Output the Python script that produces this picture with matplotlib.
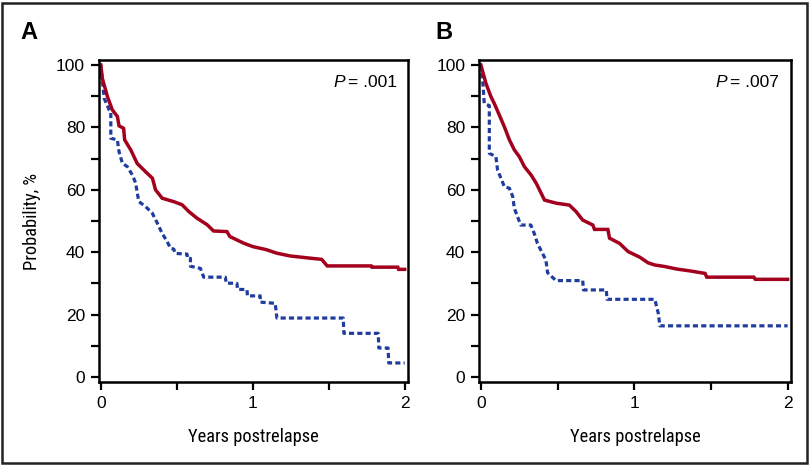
import matplotlib
matplotlib.use("Agg")
import matplotlib.pyplot as plt
from matplotlib import font_manager
from matplotlib.patches import Rectangle

# panel A  (years postrelapse, probability %)
a_red_t = [0, 0.01, 0.044, 0.076, 0.109, 0.12, 0.15, 0.157, 0.197, 0.24, 0.305, 0.34, 0.36, 0.404,
           0.48, 0.535, 0.58, 0.633, 0.70, 0.742, 0.83, 0.85, 0.94, 1.0, 1.09, 1.157, 1.245, 1.375,
           1.454, 1.49, 1.78, 1.785, 1.955, 1.96, 2.0]
a_red_s = [100, 95.7, 89.8, 85.6, 83.5, 80.5, 79.7, 76, 72.8, 68.4, 65.3, 63.7, 60, 57.3,
           56.2, 55.2, 53, 50.9, 48.8, 46.8, 46.6, 45, 42.9, 41.8, 40.8, 39.7, 38.8, 38.1,
           37.7, 35.6, 35.6, 35.2, 35.2, 34.5, 34.5]
a_blue_t = [0, 0.01, 0.022, 0.055, 0.066, 0.066, 0.109, 0.12, 0.142, 0.175, 0.208, 0.23, 0.24,
            0.251, 0.295, 0.339, 0.372, 0.404, 0.437, 0.459, 0.48, 0.49, 0.568, 0.57, 0.59,
            0.59, 0.656, 0.677, 0.82, 0.825, 0.896, 0.9, 0.962, 0.965, 1.049, 1.05, 1.148,
            1.159, 1.596, 1.6, 1.826, 1.83, 1.891, 1.895, 2.0]
a_blue_s = [100, 95, 89.3, 85.6, 85, 76.5, 76, 72.2, 68.5, 67.4, 64.7, 62.1, 58.9,
            56.2, 54.6, 52.5, 49.3, 46, 43.4, 41.2, 41.0, 39.6, 39.4, 38.0, 38.0,
            35.5, 34.8, 32.0, 32.0, 30.1, 30.0, 28.1, 28.0, 26.0, 26.0, 24.0, 23.6,
            18.9, 18.9, 14.0, 14.0, 9.3, 9.3, 4.5, 4.5]

# panel B
b_red_t = [0, 0.033, 0.066, 0.087, 0.12, 0.153, 0.186, 0.218, 0.251, 0.284, 0.328, 0.361, 0.393,
           0.415, 0.492, 0.577, 0.621, 0.664, 0.73, 0.741, 0.828, 0.839, 0.905, 0.96, 1.036,
           1.09, 1.134, 1.2, 1.277, 1.364, 1.462, 1.473, 1.78, 1.79, 2.0]
b_red_s = [100, 94.1, 89.8, 87.7, 84, 80.2, 76, 72.8, 70.6, 67.4, 64.7, 62.1, 58.9,
           56.7, 55.7, 55.1, 53, 50.3, 48.7, 47.3, 47.3, 44.5, 42.8, 40.2, 38.4,
           36.6, 35.9, 35.4, 34.6, 34, 33.2, 32, 32, 31.3, 31.3]
b_blue_t = [0, 0.015, 0.022, 0.044, 0.055, 0.055, 0.098, 0.109, 0.131, 0.153, 0.186, 0.208,
            0.218, 0.26, 0.326, 0.348, 0.369, 0.402, 0.424, 0.435, 0.49, 0.664, 0.669,
            0.818, 0.822, 1.134, 1.157, 1.167, 2.0]
b_blue_s = [100, 93, 87.7, 87.2, 87, 71.7, 70.6, 66.3, 63.7, 61, 60.5, 57.8,
            54.1, 48.7, 48.7, 46, 42.8, 39.6, 37.5, 33.4, 30.9, 30.9, 27.9,
            27.9, 24.9, 24.9, 20.4, 16.4, 16.4]

panels = [
    ("A", "= .001", a_red_t, a_red_s, a_blue_t, a_blue_s),
    ("B", "= .007", b_red_t, b_red_s, b_blue_t, b_blue_s),
]

RED = "#a3001e"
BLUE = "#1f3c9e"

# condensed face for the axis titles if one is around
installed = {f.name for f in font_manager.fontManager.ttflist}
narrow = None
for name in ["Liberation Sans Narrow", "Arial Narrow", "DejaVu Sans Condensed",
             "Roboto Condensed", "Open Sans Condensed"]:
    if name in installed:
        narrow = name
        break
if narrow:
    lab_family, lab_size = [narrow, "DejaVu Sans"], 13.2
else:
    lab_family, lab_size = ["Liberation Sans", "DejaVu Sans"], 11.5
tickfont = ["Liberation Sans", "DejaVu Sans"]

fig = plt.figure(figsize=(8.1, 4.65), dpi=100)
fig.patch.set_facecolor("white")

boxes = [[0.1222, 0.1785, 0.3815, 0.6925], [0.5914, 0.1785, 0.3851, 0.6925]]
letter_x = [0.025, 0.537]

for i, (letter, pval, rt, rs, bt, bs) in enumerate(panels):
    ax = fig.add_axes(boxes[i])
    ax.plot(bt, bs, color=BLUE, lw=2.3, linestyle=(0, (1.6, 1.0)))
    ax.plot(rt, rs, color=RED, lw=2.5, solid_joinstyle="miter")
    ax.set_xlim(-0.012, 2.022)
    ax.set_ylim(-1.6, 101.6)
    ax.set_xticks([0, 0.5, 1, 1.5, 2])
    ax.set_xticklabels(["0", "", "1", "", "2"], family=tickfont, fontsize=12.5)
    ax.set_yticks(range(0, 101, 10))
    ax.set_yticklabels([str(v) if v % 20 == 0 else "" for v in range(0, 101, 10)],
                       family=tickfont, fontsize=12.5)
    ax.tick_params(direction="out", length=6, width=1.6, color="black", pad=4)
    for sp in ax.spines.values():
        sp.set_linewidth(1.8)
    ax.set_xlabel("Years postrelapse", family=lab_family, fontsize=lab_size, labelpad=12)
    if i == 0:
        ax.set_ylabel("Probability, %", family=lab_family, fontsize=lab_size, labelpad=11)
    ax.text(0.795, 0.93, "P", transform=ax.transAxes, style="italic",
            family=tickfont, fontsize=12.5, ha="right", va="center")
    ax.text(0.805, 0.93, pval, transform=ax.transAxes,
            family=tickfont, fontsize=12.5, ha="left", va="center")
    fig.text(letter_x[i], 0.93, letter, family=tickfont, fontsize=17,
             fontweight="bold", ha="left", va="center")

fig.patches.append(Rectangle((0.003, 0.005), 0.993, 0.988, transform=fig.transFigure,
                             fill=False, edgecolor="#222222", lw=1.8))

fig.savefig("out.png", dpi=100)
